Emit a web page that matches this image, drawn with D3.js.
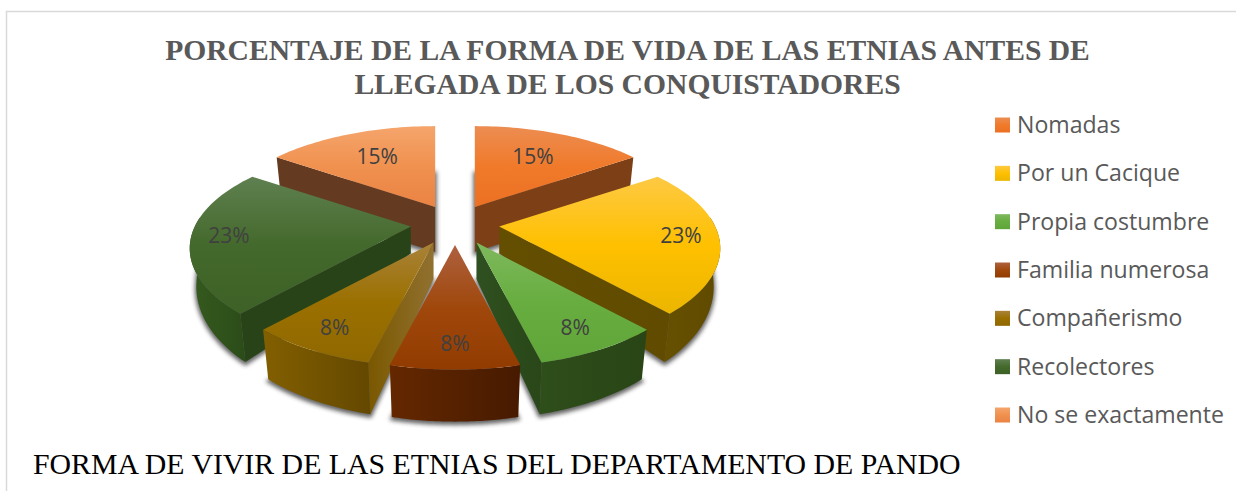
<!DOCTYPE html>
<html>
<head>
<meta charset="utf-8">
<title>Forma de vida</title>
<script src="https://cdn.jsdelivr.net/npm/d3@7"></script>
<style>
html, body { margin: 0; background: #fff; overflow: hidden; }
svg { display: block; }
.title { font: bold 29.6px "Liberation Serif", serif; fill: #595959; text-anchor: middle; }
.caption { font: 29.8px "Liberation Serif", serif; fill: #000; }
.legend text { font: 23.1px "Open Sans", sans-serif; fill: #595959; }
.pct { font: 21px "Open Sans", sans-serif; fill: #404040; text-anchor: middle; }
</style>
</head>
<body>
<svg width="1236" height="491"></svg>
<script>
var categories = ["Nomadas", "Por un Cacique", "Propia costumbre", "Familia numerosa", "Compañerismo", "Recolectores", "No se exactamente"];
// labels on the chart are these, rounded
var values = [15.4, 23.1, 7.7, 7.7, 7.7, 23.1, 15.4];
var titleLines = ["PORCENTAJE DE LA FORMA DE VIDA DE LAS ETNIAS ANTES DE", "LLEGADA DE LOS CONQUISTADORES"];
var caption = "FORMA DE VIVIR DE LAS ETNIAS DEL DEPARTAMENTO DE PANDO";

// top face gradients, top to bottom
var topColors = [
    ["#ec8d52", "#f07a2a", "#ec7023"],
    ["#fdc943", "#ffc000", "#ebb600"],
    ["#7fb95e", "#67ad3f", "#60a539"],
    ["#ae6140", "#a0480c", "#923b00"],
    ["#a9823a", "#9b7000", "#8f6800"],
    ["#5f8050", "#44692c", "#3d6126"],
    ["#f5a56c", "#f0914f", "#ea8343"]
];
// side walls, left to right
var wallColors = [
    ["#7b3f17", "#7f4015"],
    ["#665000", "#5f4a00"],
    ["#2e4e1a", "#294516"],
    ["#642800", "#471a00"],
    ["#825f00", "#644800"],
    ["#365a1f", "#2b4c18"],
    ["#6a3c21", "#5e361c"]
];
var cutColors = [
    ["#7d3f15", "#7d3f15"],
    ["#644e00", "#604b00"],
    ["#2f5020", "#294718"],
    ["#4f1f00", "#4f1f00"],
    ["#7a5800", "#917130"],
    ["#284318", "#284318"],
    ["#643a20", "#643a20"]
];

var svg = d3.select("svg");
var defs = svg.append("defs");

var cx = 455, cy = 224;
var rx = 216, ry = 98, persp = 0.2136, explode = 0.205;

// ground plane -> screen, things nearer the viewer get bigger
function hom(a, r) {
    var X = Math.sin(a) * r, Y = -Math.cos(a) * r;
    var s = 1 / (1 - persp * Y);
    return [rx * X * s, ry * Y * s];
}

var depthScale = d3.scaleLinear().domain([227, 245, 310, 367]).range([27, 38, 48, 52]).clamp(true);

var arcs = d3.pie().sort(null).value(function(d) { return d; })(values);
var slices = arcs.map(function(d, i) {
    var mid = (d.startAngle + d.endAngle) / 2;
    var off = hom(mid, explode);
    return { i: i, v: d.value, a0: d.startAngle, a1: d.endAngle, mid: mid,
             ax: cx + off[0], ay: cy + off[1], back: Math.cos(mid) > 0.5 };
});

function topPt(s, a, r) {
    var p = hom(a, r);
    return [s.ax + p[0], s.ay + p[1]];
}
function lowPt(s, p) {
    var d = s.back ? 45 : depthScale(p[1]);
    return [s.ax + (p[0] - s.ax) * 0.97, p[1] + d];
}
function arcPts(s, a0, a1) {
    return d3.range(0, 41).map(function(k) {
        return topPt(s, a0 + (a1 - a0) * k / 40, 1);
    });
}
var line = d3.line();
function closed(pts) { return line(pts) + "Z"; }

function gradient(id, cols, horizontal) {
    var g = defs.append("linearGradient").attr("id", id)
        .attr("x1", 0).attr("y1", 0)
        .attr("x2", horizontal ? 1 : 0).attr("y2", horizontal ? 0 : 1);
    cols.forEach(function(c, k) {
        g.append("stop").attr("offset", k / (cols.length - 1)).attr("stop-color", c);
    });
}
categories.forEach(function(c, i) {
    gradient("top" + i, topColors[i], false);
    gradient("wall" + i, wallColors[i], true);
    gradient("cut" + i, cutColors[i], true);
});

var blur = defs.append("filter").attr("id", "soft")
    .attr("x", "-20%").attr("y", "-20%").attr("width", "140%").attr("height", "140%");
blur.append("feGaussianBlur").attr("stdDeviation", 2.2);

// frame
svg.append("path").attr("d", "M6.5,491V11.5H1236").attr("fill", "none")
    .attr("stroke", "#d9d9d9").attr("stroke-width", 1.5);

svg.selectAll(".title").data(titleLines).enter().append("text")
    .attr("class", "title").attr("x", 627.5)
    .attr("y", function(d, i) { return 60 + i * 34; })
    .text(function(d) { return d; });

svg.append("text").attr("class", "caption").attr("x", 33).attr("y", 474).text(caption);

// back to front
var order = slices.slice().sort(function(a, b) { return Math.cos(b.mid) - Math.cos(a.mid); });

var pieG = svg.append("g");
order.forEach(function(s) {
    var g = pieG.append("g");
    var outer = arcPts(s, s.a0, s.a1);
    var apex = [s.ax, s.ay];

    // shadow from the bottom face
    var low = [apex].concat(outer).map(function(p) { return lowPt(s, p); });
    g.append("path").attr("d", closed(low)).attr("fill", "#333").attr("stroke", "#333")
        .attr("stroke-width", 3).attr("opacity", 0.75).attr("filter", "url(#soft)")
        .attr("transform", "translate(0,2)");

    // cut faces that look at the viewer
    function face(a) {
        var p = topPt(s, a, 1);
        g.append("path")
            .attr("d", closed([apex, p, lowPt(s, p), lowPt(s, apex)]))
            .attr("fill", "url(#cut" + s.i + ")");
    }
    if (s.a1 < Math.PI) face(s.a1);
    if (s.a0 > Math.PI) face(s.a0);

    // round wall, front part only
    var w0 = Math.max(s.a0, Math.PI * 0.47), w1 = Math.min(s.a1, Math.PI * 1.53);
    if (w1 > w0) {
        var rim = arcPts(s, w0, w1);
        g.append("path")
            .attr("d", closed(rim.concat(rim.map(function(p) { return lowPt(s, p); }).reverse())))
            .attr("fill", "url(#wall" + s.i + ")");
    }

    g.append("path").attr("d", closed([apex].concat(outer)))
        .attr("fill", "url(#top" + s.i + ")");
});

var pct = d3.format(".0f");
svg.selectAll(".pct").data(slices).enter().append("text")
    .attr("class", "pct")
    .attr("x", function(s) { return topPt(s, s.mid, s.back ? 0.65 : 0.83)[0]; })
    .attr("y", function(s) { return topPt(s, s.mid, s.back ? 0.65 : 0.83)[1] + 7; })
    .text(function(s) { return pct(s.v) + "%"; });

var legendY = d3.scalePoint().domain(categories).range([125, 415]);
var legend = svg.append("g").attr("class", "legend");
categories.forEach(function(c, i) {
    legend.append("rect").attr("x", 995).attr("y", legendY(c) - 7.5)
        .attr("width", 15).attr("height", 15).attr("fill", "url(#top" + i + ")");
    legend.append("text").attr("x", 1017).attr("y", legendY(c) + 8).text(c);
});
</script>
</body>
</html>
